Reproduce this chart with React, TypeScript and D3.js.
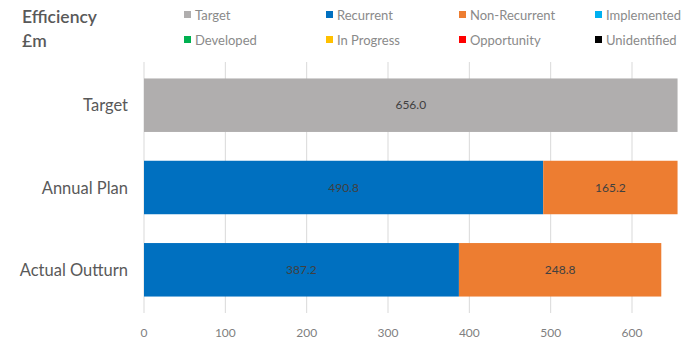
import React from "react";
import * as d3 from "d3";

const categories = ["Target", "Annual Plan", "Actual Outturn"];
const seriesNames = ["Target", "Recurrent", "Non-Recurrent", "Implemented", "Developed", "In Progress", "Opportunity", "Unidentified"];
const seriesColors = ["#B0AEAE", "#0070C0", "#ED7D31", "#00B0F0", "#00B050", "#FFC000", "#FF0000", "#000000"];
const targetValues = [656.0, 0, 0];
const recurrentValues = [0, 490.8, 387.2];
const nonRecurrentValues = [0, 165.2, 248.8];
const xTicks = [0, 100, 200, 300, 400, 500, 600];

export default function App() {
  const W = 685, H = 342;
  const x = d3.scaleLinear().domain([0, 600]).range([144, 632]);
  const y = d3.scaleBand().domain(categories).range([62, 313]).paddingInner(0.35).paddingOuter(0.2);
  const seriesVals = [targetValues, recurrentValues, nonRecurrentValues];
  const segs: { cat: string; x0: number; x1: number; v: number; color: string }[] = [];
  categories.forEach((c, i) => {
    let acc = 0;
    seriesVals.forEach((arr, s) => {
      const v = arr[i];
      if (v > 0) {
        segs.push({ cat: c, x0: acc, x1: acc + v, v, color: seriesColors[s] });
        acc += v;
      }
    });
  });
  const font = "Lato, 'Open Sans', sans-serif";
  const legendCols = [187, 329, 462, 598];
  const legendRows = [15, 40];
  return (
    <svg width={W} height={H} style={{ position: "absolute", left: 0, top: 0, background: "#fff" }} fontFamily={font}>
      <text x={22} y={23} fontSize={17.5} fontWeight={600} fill="#595959">Efficiency</text>
      <text x={22} y={47} fontSize={17.5} fontWeight={600} fill="#595959">£m</text>
      {seriesNames.map((n, i) => {
        const cx = legendCols[i % 4];
        const cy = legendRows[Math.floor(i / 4)];
        return (
          <g key={n}>
            <rect x={cx - 3} y={cy - 4} width={7} height={7} fill={seriesColors[i]} />
            <text x={cx + 8} y={cy + 4.5} fontSize={13} fill="#8a8a8a">{n}</text>
          </g>
        );
      })}
      {xTicks.map(t => (
        <line key={t} x1={x(t)} x2={x(t)} y1={62} y2={313} stroke="#d9d9d9" strokeWidth={1} />
      ))}
      {segs.map((s, i) => (
        <g key={i}>
          <rect x={x(s.x0)} y={y(s.cat)} width={x(s.x1) - x(s.x0)} height={y.bandwidth()} fill={s.color} />
          <text x={(x(s.x0) + x(s.x1)) / 2} y={(y(s.cat) as number) + y.bandwidth() / 2 + 4} fontSize={12} textAnchor="middle" fill="#404040">{s.v.toFixed(1)}</text>
        </g>
      ))}
      {categories.map(c => (
        <text key={c} x={128} y={(y(c) as number) + y.bandwidth() / 2 + 6} fontSize={16.5} textAnchor="end" fill="#595959">{c}</text>
      ))}
      {xTicks.map(t => (
        <text key={t} x={x(t)} y={337} fontSize={12} textAnchor="middle" fill="#7f7f7f">{t}</text>
      ))}
    </svg>
  );
}
